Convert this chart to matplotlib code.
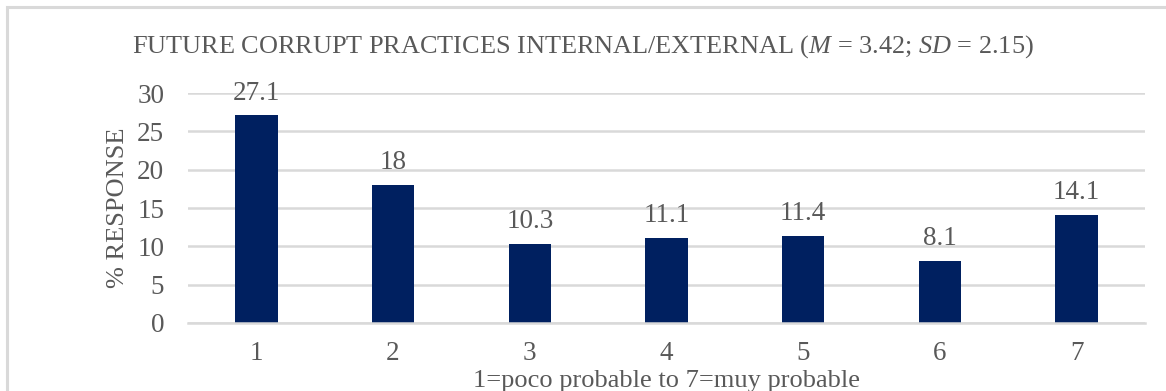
import matplotlib.pyplot as plt
from matplotlib.patches import Rectangle

plt.rcParams["font.family"] = ["Liberation Serif", "DejaVu Serif"]
plt.rcParams["mathtext.fontset"] = "custom"
plt.rcParams["mathtext.rm"] = "Liberation Serif"
plt.rcParams["mathtext.it"] = "Liberation Serif:italic"

categories = ["1", "2", "3", "4", "5", "6", "7"]
values = [27.1, 18, 10.3, 11.1, 11.4, 8.1, 14.1]
labels = ["27.1", "18", "10.3", "11.1", "11.4", "8.1", "14.1"]

text_color = "#595959"
bar_color = "#002060"
grid_color = "#d9d9d9"

fig = plt.figure(figsize=(11.66, 3.91), dpi=100)
ax = fig.add_axes([0.1612, 0.174, 0.8208, 0.588])

# light frame around the chart (Excel-style chart area)
fig.patches.append(Rectangle((7 / 1166, -0.05), 1.1, 1 - 7 / 391 + 0.05,
                             transform=fig.transFigure, fill=False,
                             edgecolor=grid_color, linewidth=2.2))

x = range(len(categories))
bars = ax.bar(x, values, width=0.31, color=bar_color)

ax.set_xlim(-0.5, len(categories) - 0.5)
ax.set_ylim(0, 30)
ax.set_yticks(range(0, 31, 5))
ax.set_xticks(list(x))
ax.set_xticklabels(categories)
ax.tick_params(axis="both", length=0, labelsize=19.5, colors=text_color)
ax.tick_params(axis="y", pad=17)
ax.tick_params(axis="x", pad=13)

ax.grid(axis="y", color=grid_color, linewidth=1.8)
ax.set_axisbelow(True)
for side in ["top", "right", "left"]:
    ax.spines[side].set_visible(False)
ax.spines["bottom"].set_color(grid_color)
ax.spines["bottom"].set_linewidth(1.8)

for bar, lab in zip(bars, labels):
    ax.annotate(lab, (bar.get_x() + bar.get_width() / 2, bar.get_height()),
                xytext=(0, 7), textcoords="offset points",
                ha="center", va="bottom", fontsize=19.5, color=text_color)

ax.set_ylabel("% RESPONSE", fontsize=19, color=text_color, labelpad=6)
ax.set_xlabel("1=poco probable to 7=muy probable", fontsize=19,
              color=text_color, labelpad=3)

fig.text(0.5, 1 - 47 / 391,
         r"FUTURE CORRUPT PRACTICES INTERNAL/EXTERNAL ($M$ = 3.42; $SD$ = 2.15)",
         ha="center", va="center", fontsize=18.9, color=text_color)

fig.savefig("out.png", dpi=100)
